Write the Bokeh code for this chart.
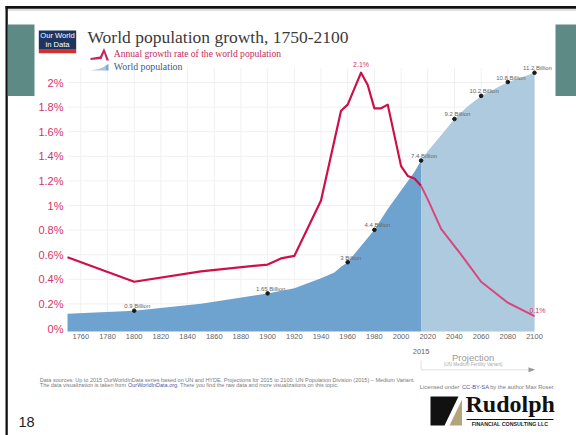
from bokeh.plotting import figure
from bokeh.models import (Range1d, FixedTicker, Label, LabelSet, ColumnDataSource,
                          BoxAnnotation, PolyAnnotation)
from bokeh.embed import file_html
from bokeh.resources import INLINE
from bokeh.core.properties import value

# ---------------- data ----------------
growth_years = [1750, 1800, 1850, 1900, 1910, 1920, 1940, 1955, 1960, 1970, 1975, 1980,
                1985, 1990, 2000, 2005, 2010, 2015, 2020, 2025, 2030, 2045, 2060, 2080, 2100]
growth_rate = [0.58, 0.38, 0.465, 0.52, 0.57, 0.59, 1.04, 1.77, 1.82, 2.08, 1.98, 1.79,
               1.79, 1.82, 1.32, 1.24, 1.22, 1.16, 1.05, 0.93, 0.81, 0.60, 0.38, 0.21, 0.10]

pop_years = [1750, 1800, 1850, 1900, 1920, 1940, 1950, 1955, 1960, 1970, 1980, 1990, 2000, 2010, 2015]
pop_billion = [0.77, 0.9, 1.2, 1.65, 1.87, 2.3, 2.55, 2.8, 3.0, 3.7, 4.4, 5.3, 6.1, 6.9, 7.4]

proj_years = [2015, 2020, 2030, 2040, 2050, 2060, 2070, 2080, 2090, 2100]
proj_billion = [7.4, 7.8, 8.5, 9.2, 9.75, 10.2, 10.5, 10.8, 11.0, 11.2]

marked_years = [1800, 1900, 1960, 1980, 2015, 2040, 2060, 2080, 2100]
marked_billion = [0.9, 1.65, 3, 4.4, 7.4, 9.2, 10.2, 10.8, 11.2]

x_ticks = [1760, 1780, 1800, 1820, 1840, 1860, 1880, 1900, 1920, 1940, 1960, 1980, 2000,
           2020, 2040, 2060, 2080, 2100]
y_ticks = [0.0, 0.2, 0.4, 0.6, 0.8, 1.0, 1.2, 1.4, 1.6, 1.8, 2.0]
y_tick_labels = ["0%", "0.2%", "0.4%", "0.6%", "0.8%", "1%", "1.2%", "1.4%", "1.6%", "1.8%", "2%"]

X_START, X_END, PROJ_START = 1750, 2100, 2015
Y_TOP = 2.12
peak_year, peak_text = 1970, "2.1%"
end_text = "0.1%"

# ---------------- colours / fonts ----------------
RED = "#cf1048"
RED_PROJ = "#da467b"
PINK_TXT = "#d4336b"
BLUE_HIST = "#6fa3cf"
BLUE_PROJ = "#aecade"
TEAL = "#5d8a84"
SANS = "Liberation Sans"
SERIF = "Liberation Serif"

# ---------------- canvas / scale layout ----------------
W, H = 576, 435
PX_LEFT, PX_RIGHT = 67.0, 534.0        # canvas x of X_START / X_END
PX_ZERO, PX_PER_PCT = 328.0, 123.0     # canvas y of 0 %, px per 1 %
PX_BASE, PX_PER_BN = 331.0, 23.1       # canvas y of 0 people, px per billion
ppy = (PX_RIGHT - PX_LEFT) / (X_END - X_START)
xr = Range1d(X_START - PX_LEFT / ppy, X_END + (W - PX_RIGHT) / ppy)
yr = Range1d(-(H - PX_ZERO) / PX_PER_PCT, PX_ZERO / PX_PER_PCT)
pr = Range1d(-(H - PX_BASE) / PX_PER_BN, PX_BASE / PX_PER_BN)
XAXIS_PX = 325.5                       # canvas y where the year labels hang from
YAXIS_PX = 71.0                        # canvas x where the % labels end

p = figure(width=W, height=H, output_backend="svg", toolbar_location=None,
           x_range=xr, y_range=yr, min_border=0)
p.extra_y_ranges = {"pop": pr}
p.outline_line_color = None
p.background_fill_color = "white"
p.border_fill_color = "white"
p.xgrid.visible = False
p.ygrid.visible = False

# axes fixed inside the (full-canvas) frame
p.xaxis.ticker = FixedTicker(ticks=x_ticks)
p.yaxis.ticker = FixedTicker(ticks=y_ticks)
p.yaxis.major_label_overrides = dict(zip(y_ticks, y_tick_labels))
p.xaxis.fixed_location = (PX_ZERO - XAXIS_PX) / PX_PER_PCT
p.yaxis.fixed_location = X_START + (YAXIS_PX - PX_LEFT) / ppy
for ax in (p.xaxis[0], p.yaxis[0]):
    ax.axis_line_color = None
    ax.major_tick_line_color = None
    ax.minor_tick_line_color = None
    ax.major_label_standoff = 2
    ax.major_label_text_font = SANS
p.xaxis.major_label_text_font_size = "7.5px"
p.xaxis.major_label_text_color = "#666666"
p.yaxis.major_label_text_font_size = "11px"
p.yaxis.major_label_text_color = PINK_TXT

# faint grid within the chart area
p.segment(x0=x_ticks, x1=x_ticks, y0=[0] * len(x_ticks), y1=[Y_TOP] * len(x_ticks),
          line_color="#f0f0f0", line_width=1)
p.segment(x0=[X_START] * len(y_ticks), x1=[X_END] * len(y_ticks), y0=y_ticks, y1=y_ticks,
          line_color="#f0f0f0", line_width=1)

# population areas
p.varea(x=pop_years, y1=0, y2=pop_billion, y_range_name="pop", fill_color=BLUE_HIST)
p.varea(x=proj_years, y1=0, y2=proj_billion, y_range_name="pop", fill_color=BLUE_PROJ)

# growth rate line
hx = [y for y in growth_years if y <= PROJ_START]
hy = [r for y, r in zip(growth_years, growth_rate) if y <= PROJ_START]
px = [y for y in growth_years if y >= PROJ_START]
py = [r for y, r in zip(growth_years, growth_rate) if y >= PROJ_START]
p.line(hx, hy, line_color=RED, line_width=2.2, line_join="round")
p.line(px, py, line_color=RED_PROJ, line_width=2.0, line_join="round")

# population markers + labels
msrc = ColumnDataSource(dict(x=marked_years, y=marked_billion,
                             t=[f"{v:g} Billion" for v in marked_billion]))
p.scatter("x", "y", source=msrc, y_range_name="pop", size=3.6, color="#1a1a1a")
p.add_layout(LabelSet(x="x", y="y", text="t", source=msrc, y_range_name="pop",
                      x_offset=3, y_offset=4.5, text_align="center", text_baseline="middle",
                      text_font=value(SANS), text_font_size=value("6px"),
                      text_color="#666666"))

p.add_layout(Label(x=peak_year, y=max(growth_rate), text=peak_text, y_offset=8,
                   text_align="center", text_baseline="middle", text_font=SANS,
                   text_font_size="7px", text_color=PINK_TXT))
p.add_layout(Label(x=growth_years[-1], y=growth_rate[-1], text=end_text, x_offset=-5,
                   y_offset=6, text_align="left", text_baseline="middle", text_font=SANS,
                   text_font_size="7px", text_color=PINK_TXT))


# ---------------- slide decorations (canvas units) ----------------
def box(l, r, t, b, color):
    p.add_layout(BoxAnnotation(left=l, right=r, top=t, bottom=b, left_units="canvas",
                               right_units="canvas", top_units="canvas", bottom_units="canvas",
                               fill_color=color, fill_alpha=1, line_color=None))


def poly(xs, ys, color, xs_units="canvas", line=None, lw=1):
    p.add_layout(PolyAnnotation(xs=xs, ys=ys, xs_units=xs_units, ys_units="canvas",
                                fill_color=color, fill_alpha=1 if color else 0,
                                line_color=line, line_width=lw))


def text(x, y, s, size, color="#333333", font=SANS, align="left", baseline="middle",
         style="normal", x_units="canvas"):
    p.add_layout(Label(x=x, y=y, x_units=x_units, y_units="canvas", text=s,
                       text_font=font, text_font_size=f"{size}px", text_color=color,
                       text_align=align, text_baseline=baseline, text_font_style=style))


def tw(s, size):
    wd = {' ': .278, '.': .278, ',': .278, ':': .278, 'i': .222, 'l': .222, 'j': .222,
          't': .278, 'f': .278, 'I': .278, 'r': .333, '-': .333, '(': .333, ')': .333,
          's': .5, 'c': .5, 'k': .5, 'v': .5, 'x': .5, 'y': .5, 'z': .5, 'm': .833,
          'w': .722, 'W': .944, 'M': .833, 'O': .778}
    return size * sum(wd.get(c, .70 if c.isupper() else .556) for c in s)


# slide frame
box(5, W, 5.5, 8.3, "#111111")
box(7.3, W, 9, 10, "#c4c4c4")
box(5, 7.3, 5.5, H, "#111111")
box(7.3, 34, 24, 95.5, TEAL)
box(555, W, 24, 95.5, TEAL)

# OWID logo
box(38.3, 75.7, 30, 49.3, "#1d3461")
box(38.3, 75.7, 49.3, 52.7, "#d0312d")
text(57, 35, "Our World", 7.6, "white", align="center")
text(57, 43.5, "in Data", 7.6, "white", align="center")

# title & legend
text(87, 36.3, "World population growth, 1750-2100", 17.5, "#3a3a3a", font=SERIF)
poly([90, 99.5, 103.5, 108.5, 106, 103.5, 101, 90], [57.5, 56, 47.5, 60, 60, 52.5, 58.5, 59.5], "#c9245a")
text(113.3, 53.3, "Annual growth rate of the world population", 9.6, "#c62a5b", font=SERIF)
poly([90, 97, 102, 105, 105], [70, 68.8, 67, 65.2, 70], "#a9c7e0")
poly([105, 108, 108, 105], [65.2, 63.3, 70, 70], "#7eaad2")
text(113.3, 66.3, "World population", 9.8, "#3b5b8c", font=SERIF)

# projection bracket
text(PROJ_START, 351, str(PROJ_START), 7.5, "#666666", align="center", x_units="data")
poly([PROJ_START, PROJ_START], [360, 369.3], None, xs_units="data", line="#999999")
poly([PROJ_START, X_END - 1], [369.3, 369.3], None, xs_units="data", line="#999999")
poly([X_END - 4.5, X_END + 0.5, X_END - 4.5], [366.8, 369.3, 371.8], "#999999", xs_units="data")
text(2054, 357.3, "Projection", 9.5, "#9a9a9a", align="center", x_units="data")
text(2054, 364.3, "(UN Medium Fertility Variant)", 4.6, "#aaaaaa", align="center", x_units="data")

# footer
FS = 5.5
GRAY = "#7a7a7a"
LINK = "#4a5aa8"
text(39.3, 379.3, "Data sources:  Up to 2015 OurWorldInData series based on UN and HYDE. "
     "Projections for 2015 to 2100: UN Population Division (2015) \u2013 Medium Variant.", FS, GRAY)
segs = [("The data visualization is taken from ", GRAY), ("OurWorldInData.org", LINK),
        (". There you find the raw data and more visualizations on this topic.", GRAY)]
x0 = 39.3
for s, c in segs:
    text(x0, 384.7, s, FS, c)
    x0 += tw(s, FS)
FL = 5.8
segs = [("Licensed under ", GRAY), ("CC-BY-SA", LINK), (" by the author Max Roser.", GRAY)]
x0 = 419.3
for s, c in segs:
    text(x0, 386.7, s, FL, c)
    x0 += tw(s, FL)

# slide number
text(26, 421, "18", 14.5, "#222222", align="center")

# Rudolph logo
poly([430, 458, 444, 430], [396, 396, 425, 425], "#111111")
poly([449, 461.5, 461.5], [425, 399, 425], "#b3a47c")
text(465, 403.5, "Rudolph", 24, "#111111", font=SERIF, style="bold")
box(466, 553, 418.6, 419.4, "#111111")
text(509.5, 423, "FINANCIAL CONSULTING LLC", 5.3, "#222222", align="center", style="bold")

open("out.html", "w").write(file_html(p, INLINE))
